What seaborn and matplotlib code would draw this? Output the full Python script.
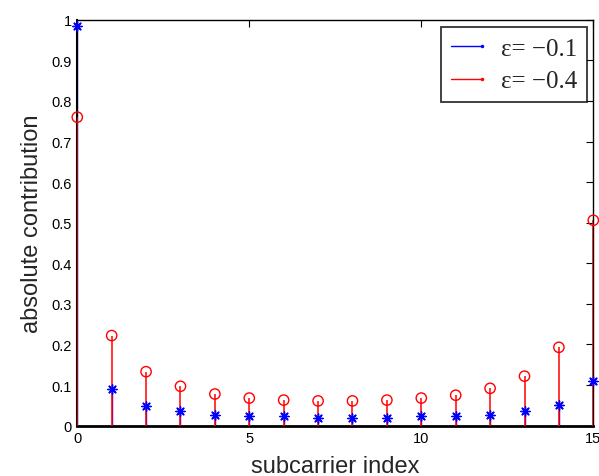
import numpy as np
import pandas as pd
import matplotlib
matplotlib.use("Agg")
import matplotlib.pyplot as plt
import seaborn as sns
from matplotlib.lines import Line2D
from matplotlib.legend_handler import HandlerLine2D

# values
subcarrier = list(range(16))
contrib_eps01 = [0.985, 0.090, 0.048, 0.035, 0.027, 0.025, 0.023, 0.020,
                 0.020, 0.020, 0.023, 0.025, 0.027, 0.036, 0.052, 0.111]
contrib_eps04 = [0.760, 0.222, 0.133, 0.097, 0.078, 0.068, 0.063, 0.061,
                 0.061, 0.063, 0.068, 0.075, 0.092, 0.122, 0.193, 0.506]
labels = ["ε= −0.1", "ε= −0.4"]

df = pd.DataFrame({
    "k": subcarrier * 2,
    "val": contrib_eps01 + contrib_eps04,
    "eps": [labels[0]] * 16 + [labels[1]] * 16,
})

sns.set_style("white")
plt.rcParams["font.family"] = ["Liberation Sans", "DejaVu Sans"]

fig = plt.figure(figsize=(5.99, 4.77), dpi=100)
ax = fig.add_axes([0.129, 0.1055, 0.8615, 0.851])

blue = df[df["eps"] == labels[0]]
red = df[df["eps"] == labels[1]]

ax.vlines(blue["k"], 0, blue["val"], color="blue", lw=1.0, zorder=2)
ax.vlines(red["k"], 0, red["val"], color="red", lw=1.1, zorder=3)
sns.scatterplot(data=blue, x="k", y="val", marker=(8, 2, 0), s=45,
                color="blue", linewidth=1.0, ax=ax, zorder=4, clip_on=False,
                legend=False)
sns.scatterplot(data=red, x="k", y="val", marker="o", s=55,
                facecolor="none", edgecolor="red", linewidth=1.0, ax=ax,
                zorder=5, clip_on=False, legend=False)

ax.set_xlim(0, 15)
ax.set_ylim(0, 1)
ax.set_xticks([0, 5, 10, 15])
ax.set_yticks(np.arange(0, 1.01, 0.1))
ax.set_yticklabels(["0", "0.1", "0.2", "0.3", "0.4", "0.5", "0.6", "0.7",
                    "0.8", "0.9", "1"])
ax.tick_params(direction="in", length=5, width=0.8, top=True, right=True,
               labelsize=10.5, colors="black", pad=4)
for s in ax.spines.values():
    s.set_visible(True)
    s.set_color("black")
    s.set_linewidth(1.0)
ax.spines["bottom"].set_linewidth(2.0)
ax.spines["left"].set_linewidth(1.5)

ax.set_xlabel("subcarrier index", fontsize=17, labelpad=7)
ax.set_ylabel("absolute contribution", fontsize=17, labelpad=6)


class StemHandler(HandlerLine2D):
    def create_artists(self, legend, orig_handle, xdescent, ydescent,
                       width, height, fontsize, trans):
        y = height / 2 - ydescent
        line = Line2D([-xdescent, width - xdescent], [y, y],
                      color=orig_handle.get_color(), lw=1.0)
        dot = Line2D([width - xdescent], [y], marker=".", markersize=3,
                     color=orig_handle.get_color(), ls="none")
        line.set_transform(trans)
        dot.set_transform(trans)
        return [line, dot]


handles = [Line2D([], [], color="blue"), Line2D([], [], color="red")]
leg = ax.legend(handles, labels, loc="upper right",
                bbox_to_anchor=(0.988, 0.981),
                prop={"family": "Liberation Serif", "size": 18},
                handler_map={Line2D: StemHandler()},
                handlelength=1.25, handletextpad=0.75, borderpad=0.4,
                labelspacing=0.4, frameon=True, fancybox=False,
                edgecolor="black", borderaxespad=0.0)
leg.get_frame().set_linewidth(1.3)

fig.savefig("out.png", dpi=100)
